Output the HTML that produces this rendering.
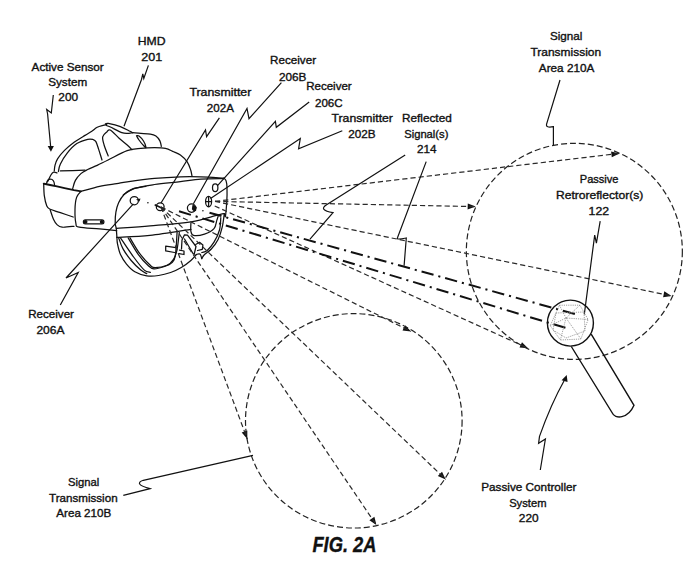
<!DOCTYPE html>
<html><head><meta charset="utf-8"><style>
html,body{margin:0;padding:0;background:#fff;}
svg{display:block;}
text{font-family:"Liberation Sans",sans-serif;fill:#111;stroke:#111;stroke-width:0.35px;}
</style></head><body>
<svg width="700" height="587" viewBox="0 0 700 587">
<g fill="#111">
<path d="M619.4,153.4 L611.8,157.3 L611.1,151.4 Z"/>
<path d="M475.7,206.6 L467.6,209.4 L467.8,203.4 Z"/>
<path d="M671.5,295.9 L663.1,297.2 L664.3,291.3 Z"/>
<path d="M528.0,348.2 L519.5,347.6 L522.0,342.2 Z"/>
<path d="M411.0,331.5 L402.5,330.6 L405.2,325.2 Z"/>
<path d="M247.3,439.1 L241.7,432.6 L247.3,430.6 Z"/>
<path d="M445.7,479.4 L437.8,476.0 L442.0,471.7 Z"/>
<path d="M376.4,525.1 L369.4,520.2 L374.4,516.8 Z"/>
</g>
<g fill="none" stroke="#111" stroke-width="1.25" stroke-linecap="round" stroke-linejoin="round">
<path d="M54.3,170.9 C54.4,170.0 54.4,167.5 55.0,165.4 C55.6,163.3 56.1,161.1 57.7,158.6 C59.3,156.1 61.8,153.1 64.5,150.4 C67.2,147.7 70.7,144.7 74.1,142.2 C77.5,139.7 82.0,137.2 85.0,135.4 C88.0,133.6 89.8,132.7 91.8,131.3 C93.8,130.0 95.2,128.3 97.2,127.3 C99.2,126.3 102.4,125.7 104.0,125.2 C105.6,124.7 106.3,124.5 106.8,124.3"/>
<path d="M105.4,123.9 C105.9,123.8 105.7,123.0 108.2,123.4 C110.7,123.9 116.8,125.3 120.4,126.6 C124.0,127.9 128.0,130.3 130.0,131.3 C132.1,132.3 132.2,132.5 132.7,132.7"/>
<path d="M106.1,125.2 C107.3,125.8 111.0,127.3 113.6,128.6 C116.2,129.8 119.5,131.9 121.8,132.7 C124.1,133.5 125.4,133.4 127.2,133.4 C129.0,133.4 131.8,132.8 132.7,132.7"/>
<path d="M132.7,132.7 C134.1,132.8 137.9,133.2 140.9,133.4 C143.9,133.6 147.9,133.7 150.4,134.1 C152.9,134.5 154.3,135.0 155.9,136.1 C157.5,137.2 159.0,139.2 159.9,140.9 C160.8,142.6 161.1,145.4 161.3,146.3"/>
<path d="M58.4,171.5 C58.7,170.2 58.9,167.1 60.4,164.0 C61.9,160.9 64.5,156.5 67.2,153.1 C69.9,149.7 73.4,145.9 76.8,143.6 C80.2,141.3 85.0,140.0 87.7,139.3 C90.4,138.6 91.7,139.1 93.1,139.5 C94.5,139.9 95.0,140.0 95.9,141.6 C96.8,143.2 97.6,146.0 98.6,149.1 C99.6,152.2 101.4,158.2 102.0,160.0"/>
<path d="M60.4,170.9 C64.5,170.8 80.9,170.3 85.0,170.2"/>
<path d="M108.2,155.9 C107.5,154.1 105.0,148.2 104.1,145.0 C103.2,141.8 102.2,139.0 102.7,136.8 C103.2,134.6 105.5,133.1 106.8,132.0 C108.0,130.9 108.2,129.0 110.2,130.0 C112.2,131.0 116.3,135.7 119.1,138.2 C121.9,140.7 125.0,143.1 127.2,145.0 C129.3,146.9 131.2,148.9 132.0,149.7"/>
<path d="M72.7,188.6 C73.2,187.2 74.0,182.9 75.4,180.4 C76.8,177.9 78.9,175.4 80.9,173.6 C83.0,171.8 85.0,170.9 87.7,169.5 C90.4,168.1 93.8,167.0 97.2,165.4 C100.6,163.8 103.1,162.4 108.1,160.0 C113.1,157.6 121.7,152.6 127.2,150.7 C132.7,148.8 136.3,148.9 140.9,148.4 C145.5,147.9 150.4,147.7 154.5,147.7 C158.6,147.7 162.2,147.7 165.4,148.4 C168.6,149.1 171.1,150.7 173.6,151.8 C176.1,152.9 178.1,153.3 180.4,155.0 C182.7,156.7 185.5,159.3 187.2,161.8 C188.9,164.3 189.9,167.6 190.7,170.0 C191.5,172.4 191.8,175.1 192.0,176.1"/>
<path d="M80.9,191.4 C84.0,190.6 93.6,187.6 99.6,186.3 C105.6,185.0 112.1,184.4 116.7,183.7 C121.3,182.9 120.9,182.7 127.2,181.8 C133.5,180.9 145.6,179.2 154.5,178.4 C163.4,177.6 172.7,177.1 180.4,176.8 C188.1,176.5 193.6,176.6 200.9,176.8 C208.2,177.0 220.2,177.9 224.0,178.1"/>
<path d="M123.2,195.0 C125.0,193.9 128.8,190.3 134.0,188.6 C139.2,186.8 146.8,185.7 154.5,184.5 C162.2,183.3 172.7,182.5 180.4,181.6 C188.1,180.7 193.6,179.7 200.9,179.2 C208.2,178.7 220.2,178.7 224.0,178.6"/>
<path d="M224.0,178.1 C224.3,178.6 225.6,179.3 226.1,180.9 C226.6,182.5 226.9,184.3 227.0,187.7 C227.1,191.1 227.1,196.5 226.8,201.3 C226.5,206.1 225.8,214.2 225.4,216.3 C225.0,218.4 224.5,214.1 224.3,213.6"/>
<path d="M43.7,183.7 C45.9,184.1 52.0,185.2 57.0,186.3 C62.0,187.4 70.0,189.3 74.0,190.2 C78.0,191.0 79.8,191.2 80.9,191.4" stroke-width="1.8"/>
<path d="M43.7,183.7 C43.8,185.7 43.8,192.0 44.3,195.7 C44.8,199.4 45.8,203.6 46.8,205.9 C47.8,208.2 47.9,208.2 50.2,209.3 C52.5,210.4 56.6,211.4 60.4,212.7 C64.2,214.0 71.1,216.3 73.2,217.0"/>
<path d="M50.2,210.0 C50.8,211.6 52.5,217.1 53.6,219.5 C54.7,221.9 55.6,223.3 57.0,224.6 C58.4,225.9 59.3,226.9 62.1,227.2 C64.9,227.5 72.0,226.5 74.0,226.3"/>
<path d="M80.9,191.4 C80.2,192.4 77.6,194.4 76.6,197.4 C75.6,200.4 75.1,205.1 75.0,209.3 C74.9,213.6 75.1,219.9 75.8,222.9 C76.5,225.9 75.2,226.2 79.2,227.2 C83.2,228.2 93.3,228.3 99.6,228.9 C105.8,229.5 113.8,230.3 116.7,230.6"/>
<path d="M47.5,181.8 C48.1,180.7 49.9,176.6 50.9,175.0 C51.9,173.4 52.6,172.5 53.6,172.2 C54.6,171.8 56.4,172.8 57.0,172.9"/>
<path d="M145.9,186.4 C143.6,186.8 135.8,187.8 132.2,189.1 C128.6,190.4 126.4,192.2 124.1,194.5 C121.8,196.8 120.0,199.8 118.6,202.7 C117.2,205.6 116.5,208.8 115.9,212.2 C115.3,215.6 115.1,220.4 115.2,223.1 C115.3,225.8 116.1,227.4 116.3,228.3"/>
<path d="M116.9,228.3 C122.4,227.9 137.7,227.0 150.0,225.9 C162.3,224.8 180.0,223.5 190.9,221.8 C201.8,220.1 210.0,217.1 215.4,215.7 C220.8,214.3 222.2,213.9 223.6,213.6"/>
<path d="M116.9,237.3 C122.4,237.0 137.7,236.7 150.0,235.4 C162.3,234.1 184.2,230.3 191.0,229.3"/>
<path d="M116.9,237.3 C117.0,238.4 116.9,240.9 117.5,243.8 C118.1,246.7 119.0,251.2 120.5,254.6 C122.0,258.0 124.1,261.2 126.5,264.1 C128.9,267.0 131.4,269.9 134.8,271.8 C138.2,273.8 142.7,275.2 146.7,275.8 C150.7,276.4 154.6,276.1 158.6,275.5 C162.6,274.9 166.8,273.8 170.6,272.5 C174.4,271.2 177.9,269.5 181.3,267.5 C184.7,265.5 188.4,262.7 190.9,260.5 C193.4,258.3 195.4,255.5 196.3,254.5"/>
<path d="M116.3,228.3 C116.4,229.8 116.8,235.8 116.9,237.3"/>
<path d="M136.5,135.8 C136.9,135.8 137.8,135.1 139.0,136.0 C140.2,136.9 142.3,139.1 143.5,141.0 C144.7,142.9 145.9,146.5 146.0,147.3 C146.1,148.1 145.2,147.2 144.0,146.0 C142.8,144.8 140.2,141.7 139.0,140.0 C137.8,138.3 136.9,136.5 136.5,135.8"/>
<path d="M224.3,213.6 C224.0,215.9 223.2,222.9 222.2,227.2 C221.2,231.5 219.9,235.9 218.1,239.5 C216.3,243.1 213.6,246.5 211.3,249.0 C209.0,251.5 206.1,252.9 204.5,254.5 C202.9,256.1 202.2,257.9 201.8,258.6"/>
<path d="M220.8,217.7 C220.6,219.8 220.6,225.9 219.5,230.0 C218.4,234.1 216.1,238.8 214.0,242.2 C211.9,245.6 209.2,248.7 207.2,250.4 C205.2,252.1 202.7,252.2 201.8,252.5"/>
<path d="M201.8,258.6 C201.6,257.9 200.9,255.3 200.4,254.5 C199.9,253.7 199.7,253.8 199.0,253.8 C198.3,253.8 196.8,254.4 196.3,254.5"/>
<path d="M118.7,237.9 C119.4,239.7 120.8,244.8 122.9,248.6 C125.0,252.4 128.2,256.9 131.2,260.5 C134.2,264.1 138.2,267.9 140.8,270.1 C143.4,272.3 145.7,273.0 146.7,273.6"/>
<path d="M120.5,237.9 C122.7,241.1 129.6,251.6 133.6,257.0 C137.6,262.4 141.5,267.5 144.3,270.1 C147.1,272.7 149.3,272.0 150.3,272.4"/>
<path d="M128.2,237.9 C129.9,240.7 135.1,250.0 138.4,254.6 C141.7,259.2 145.3,262.9 147.9,265.3 C150.5,267.7 151.1,268.7 153.9,268.9 C156.7,269.1 161.6,267.5 164.6,266.5 C167.6,265.5 169.9,264.7 171.7,262.9 C173.5,261.1 174.4,260.9 175.3,255.8 C176.2,250.7 176.8,236.2 177.1,232.3"/>
<path d="M130.0,237.9 C131.6,240.5 136.2,248.8 139.6,253.4 C143.0,258.0 147.7,262.9 150.3,265.3 C152.9,267.7 152.3,267.7 155.1,267.7 C157.9,267.7 163.9,266.7 167.0,265.3 C170.1,263.9 171.8,261.9 173.5,259.3 C175.2,256.7 176.0,254.3 177.0,249.8 C178.0,245.3 178.9,235.2 179.3,232.3"/>
<path d="M190.9,223.2 C190.9,224.5 190.5,229.3 190.9,231.3 C191.3,233.3 191.3,234.9 193.6,235.4 C195.9,235.9 201.1,235.2 204.5,234.1 C207.9,233.0 211.9,230.9 214.0,228.6 C216.1,226.3 216.1,222.4 216.8,220.4 C217.5,218.4 217.9,217.0 218.1,216.3"/>
<rect x="83.4" y="219.9" width="20.5" height="3.9" rx="1.9"/><circle cx="85.6" cy="221.85" r="1.3" fill="#111"/><circle cx="101.7" cy="221.85" r="1.3" fill="#111"/>
<ellipse cx="215.2" cy="187.7" rx="2.7" ry="3.8"/>
<ellipse cx="208.6" cy="201.6" rx="3" ry="5.2"/>
<path d="M208.6,196.8 L208.6,206.4 M205.8,201.6 L211.4,201.6"/>
<circle cx="191.6" cy="208.1" r="4.2"/><path d="M193,205.5 Q196.5,206 195.5,210.5 Q193.5,211 192.5,209Z" fill="#111"/>
<circle cx="134.3" cy="200.7" r="4.1"/>
<circle cx="160.2" cy="206.8" r="3.9"/>
<path d="M46.5,183.8 Q47,179 50.5,179 Q54,179.5 54.5,184.5"/>
<path d="M176,247.6 L165.7,246.2 L165.7,250.9 L174.5,252.5 M179.5,250.2 L184,251 L184,254.5 L179,253.6"/>
<path d="M181.5,249 L182,240 L184.5,234.8 L187.5,235.2 L196,246.5 L194,255 M184.5,239 L193,253.5"/>
<path d="M195.7,244.5 L199.5,242.3 L202.9,245 L202.3,249.3 L197.5,250.5"/>
</g>
<g fill="#111"><path d="M193.5,205.5 L196.8,207 L195.5,210.5 Z"/><circle cx="202.9" cy="210.8" r="0.8"/><circle cx="147.9" cy="202.7" r="0.8"/><path d="M154.7,204.8 L165,209.5" stroke="#111" stroke-width="1.6"/><path d="M136,199.5 L140.5,198.6 L139.5,201.5Z"/></g>
<!-- dashed circles -->
<g fill="none" stroke="#222" stroke-width="1.2" stroke-dasharray="6 3">
<circle cx="574.35" cy="251.3" r="108"/>
<ellipse cx="353.8" cy="420.8" rx="108.3" ry="107.2"/>
</g>
<!-- rays -->
<g fill="none" stroke="#2a2a2a" stroke-width="1.2" stroke-dasharray="5.2 3">
<path d="M215,201.4 L619.4,153.4"/>
<path d="M215,201.4 L475.7,206.6"/>
<path d="M215,201.4 L671.5,295.9"/>
<path d="M214.7,206 L528,348.2"/>
<path d="M161,207 L411,331.5"/>
<path d="M161,207 L247.3,439.1"/>
<path d="M161,207 L445.7,479.4"/>
<path d="M161,207 L376.4,525.1"/>
</g>
<!-- dash-dot reflected -->
<g fill="none" stroke="#111" stroke-width="2" stroke-dasharray="12.4 5 2.1 4.95">
<path d="M577,314.6 L209,212.6" stroke-dashoffset="22.25"/>
<path d="M566,328 L178,211" stroke-dashoffset="23.85"/>
</g>
<!-- controller -->
<g fill="none" stroke="#111" stroke-width="1.4">
<circle cx="570.4" cy="323.1" r="23"/>
<path d="M571.3,346.5 L612,412.5 C615,419.5 628,419 634,405.3 L591.2,334.2"/>
</g>
<!-- leaders -->
<g fill="none" stroke="#111" stroke-width="1.2" stroke-linejoin="miter">
<path d="M53.3,95 L51.3,113 L46.7,109.5 L47.6,114 L50.6,146"/>
<path d="M148.4,65.4 L143.8,78.5 L142.8,73.8 L141.5,79.5 L124,126.3"/>
<path d="M219.4,117.9 L206.6,136.7 L205.5,130 L161,203"/>
<path d="M281.4,82.7 L249,118.7 L247,108.5 L193.4,203.7"/>
<path d="M309.2,102.1 L276.3,127.3 L275.4,121.3 L217.3,185.8"/>
<path d="M342.3,130.7 L298.6,148.7 L300.3,138.4 L210.5,198.6"/>
<path d="M405.2,155 L326.6,204.8 Q318,210 333,212.6 L310,239.2"/>
<path d="M426.2,161.6 L397.4,238 Q396,240 406.3,238 L404.1,265.7"/>
<path d="M133.4,203.8 L66,278 L78.2,272.5 L60.3,305"/>
<path d="M560,80 L546.5,124.4 Q545.5,128 553.4,126.7 L553.4,145.2"/>
<path d="M600.2,221.1 L596.4,243.2 L594.7,235.1 L584.3,314.3"/>
<path d="M564.5,380 Q551,404 539.5,436.4 L538.6,443.3 L545.4,439 L540.3,470"/>
<path d="M123.3,495.3 L150,488.7 Q133,484 143.3,480.3 L253,455.3"/>
</g>
<g fill="#111">
<path d="M47.7,145.9 L53.9,145.9 L50.9,151.8 Z"/>
<path d="M566.7,375.1 L561.6,380.2 L567.6,381.9 Z"/>
</g>
<g fill="none" stroke="#888" stroke-width="0.8" stroke-dasharray="1.2 1">
<path d="M559.4,305.2 L579.9,305.2 L588.1,319.5 L580.9,339 L560.4,340 L550.2,325.7 Z"/>
<path d="M559.4,305.2 L566,318 L588.1,319.5 M566,318 L560.4,340 M566,318 L580.9,339 M550.2,325.7 L566,318 M579.9,305.2 L566,318"/>
<path d="M556,313 L584,312 L585,331 L566,338 L553,330 Z"/>
</g>

<g>
<text x="31.64" y="70.70" font-size="11.00" textLength="72.05" lengthAdjust="spacingAndGlyphs">Active Sensor</text>
<text x="48.20" y="85.70" font-size="11.00" textLength="38.97" lengthAdjust="spacingAndGlyphs">System</text>
<text x="58.31" y="101.40" font-size="11.00" textLength="19.75" lengthAdjust="spacingAndGlyphs">200</text>
<text x="137.80" y="44.90" font-size="11.00" textLength="27.84" lengthAdjust="spacingAndGlyphs">HMD</text>
<text x="141.20" y="61.00" font-size="11.00" textLength="20.98" lengthAdjust="spacingAndGlyphs">201</text>
<text x="189.42" y="95.60" font-size="11.00" textLength="61.94" lengthAdjust="spacingAndGlyphs">Transmitter</text>
<text x="206.88" y="111.90" font-size="11.00" textLength="27.05" lengthAdjust="spacingAndGlyphs">202A</text>
<text x="270.11" y="64.20" font-size="11.00" textLength="45.94" lengthAdjust="spacingAndGlyphs">Receiver</text>
<text x="278.96" y="80.50" font-size="11.00" textLength="27.49" lengthAdjust="spacingAndGlyphs">206B</text>
<text x="306.16" y="90.40" font-size="11.00" textLength="45.54" lengthAdjust="spacingAndGlyphs">Receiver</text>
<text x="314.98" y="106.70" font-size="11.00" textLength="27.69" lengthAdjust="spacingAndGlyphs">206C</text>
<text x="331.51" y="122.00" font-size="11.00" textLength="61.43" lengthAdjust="spacingAndGlyphs">Transmitter</text>
<text x="348.20" y="138.00" font-size="11.00" textLength="27.35" lengthAdjust="spacingAndGlyphs">202B</text>
<text x="402.00" y="122.00" font-size="11.00" textLength="49.75" lengthAdjust="spacingAndGlyphs">Reflected</text>
<text x="404.20" y="138.00" font-size="11.00" textLength="44.20" lengthAdjust="spacingAndGlyphs">Signal(s)</text>
<text x="416.99" y="153.00" font-size="11.00" textLength="19.51" lengthAdjust="spacingAndGlyphs">214</text>
<text x="549.96" y="40.00" font-size="11.00" textLength="32.44" lengthAdjust="spacingAndGlyphs">Signal</text>
<text x="530.51" y="56.40" font-size="11.00" textLength="70.59" lengthAdjust="spacingAndGlyphs">Transmission</text>
<text x="538.83" y="71.70" font-size="11.00" textLength="55.47" lengthAdjust="spacingAndGlyphs">Area 210A</text>
<text x="579.81" y="183.10" font-size="11.00" textLength="38.71" lengthAdjust="spacingAndGlyphs">Passive</text>
<text x="555.94" y="199.40" font-size="11.00" textLength="87.36" lengthAdjust="spacingAndGlyphs">Retroreflector(s)</text>
<text x="588.58" y="214.90" font-size="11.00" textLength="20.48" lengthAdjust="spacingAndGlyphs">122</text>
<text x="28.16" y="317.60" font-size="11.00" textLength="45.80" lengthAdjust="spacingAndGlyphs">Receiver</text>
<text x="36.43" y="333.90" font-size="11.00" textLength="28.08" lengthAdjust="spacingAndGlyphs">206A</text>
<text x="67.99" y="486.00" font-size="11.00" textLength="31.22" lengthAdjust="spacingAndGlyphs">Signal</text>
<text x="49.02" y="502.10" font-size="11.00" textLength="68.58" lengthAdjust="spacingAndGlyphs">Transmission</text>
<text x="56.34" y="516.90" font-size="11.00" textLength="54.88" lengthAdjust="spacingAndGlyphs">Area 210B</text>
<text x="481.20" y="490.90" font-size="11.00" textLength="95.33" lengthAdjust="spacingAndGlyphs">Passive Controller</text>
<text x="509.17" y="507.40" font-size="11.00" textLength="37.31" lengthAdjust="spacingAndGlyphs">System</text>
<text x="518.80" y="521.80" font-size="11.00" textLength="19.80" lengthAdjust="spacingAndGlyphs">220</text>
<text x="312.40" y="552.10" font-size="22.00" font-weight="bold" font-style="italic" textLength="64.11" lengthAdjust="spacingAndGlyphs">FIG. 2A</text>
</g>
</svg>
</body></html>
